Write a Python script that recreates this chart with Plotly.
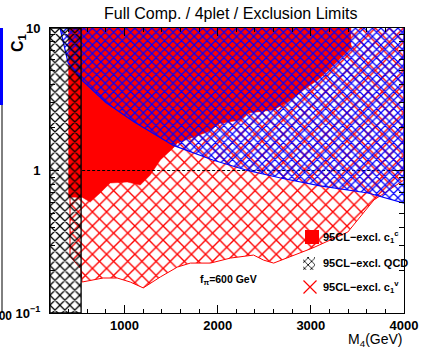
import plotly.graph_objects as go

# ---------------- data ----------------
# QCD exclusion: masses below this value are excluded
qcd_limit_mass = 534

# c1^v 95% CL exclusion: lower boundary (excluded above it)
vec_mass = [415, 415, 530, 545, 771, 921, 1061, 1201, 1384, 1567, 1707, 1922,
            2138, 2385, 2493, 2601, 3020, 3397, 3677, 4000]
vec_c1 = [10, 0.25, 0.205, 0.165, 0.176, 0.176, 0.165, 0.150, 0.179, 0.210,
          0.224, 0.224, 0.243, 0.255, 0.235, 0.224, 0.286, 0.370, 0.621, 0.858]

# c1^c 95% CL exclusion: lower/right boundary
comp_mass = [400, 400, 544, 631, 738, 846, 1029, 1169, 1277, 1384, 1524, 1567,
             1890, 2030, 2245, 2321, 2601, 2784, 2891, 3074, 3246, 3430, 3430]
comp_c1 = [10, 0.65, 0.65, 0.60, 0.695, 0.817, 0.83, 0.79, 0.93, 1.185, 1.44,
           1.56, 1.86, 2.15, 2.26, 2.53, 2.66, 3.12, 3.55, 4.32, 5.5, 7.24, 10]

# blue constraint: lower boundary (excluded above it)
blue_mass = [308, 394, 544, 800, 1100, 1524, 1955, 2321, 2676, 3100, 3613, 4000]
blue_c1 = [10, 5.7, 4.3, 3.0, 2.2, 1.5, 1.18, 1.0, 0.886, 0.78, 0.695, 0.59]

# reference line c1 = 1
ref_mass = [545, 4000]
ref_c1 = [1, 1]

x_range = [200, 4000]
y_range = [0.1, 10]
x_major = [1000, 2000, 3000, 4000]
x_major_text = ["1000", "2000", "3000", "4000"]
x_minor = [m for m in range(400, 4000, 200) if m % 1000 != 0]
y_major = [0.1, 1, 10]
y_major_text = ["10<sup>\u22121</sup>", "1", "10"]
y_minor = [0.2, 0.3, 0.4, 0.5, 0.6, 0.7, 0.8, 0.9, 2, 3, 4, 5, 6, 7, 8, 9]

title_text = "Full Comp. / 4plet / Exclusion Limits"
legend_labels = ["95CL\u2212excl. c<sub>1</sub><sup>c</sup>",
                 "95CL\u2212excl. QCD",
                 "95CL\u2212excl. c<sub>1</sub><sup>v</sup>"]
fpi_text = "f<sub>\u03c0</sub>=600 GeV"

# ---------------- layout geometry ----------------
W, H = 422, 351
L, R, T, B = 50, 18, 28, 38
PW, PH = W - L - R, H - T - B


def fx(px):
    return (px - L) / PW


def fy(py):
    return (H - B - py) / PH


FONT = "Liberation Sans"
fig = go.Figure()

# c1^v exclusion (red hatch)
fig.add_trace(go.Scatter(
    x=vec_mass + [x_range[1]], y=vec_c1 + [y_range[1]], mode="lines",
    fill="toself", fillcolor="rgba(0,0,0,0)",
    fillpattern=dict(shape="x", fgcolor="#ff0000", fgopacity=1,
                     bgcolor="rgba(0,0,0,0)", size=10, solidity=0.25),
    line=dict(color="#ff0000", width=1), hoverinfo="skip", showlegend=False))

# c1^c exclusion (solid red)
fig.add_trace(go.Scatter(
    x=comp_mass, y=comp_c1, mode="lines", fill="toself", fillcolor="#ff0000",
    line=dict(color="#ff0000", width=0.5), hoverinfo="skip", showlegend=False))

# dashed c1 = 1 line
fig.add_trace(go.Scatter(
    x=ref_mass, y=ref_c1, mode="lines",
    line=dict(color="black", width=1, dash="3px,2px"),
    hoverinfo="skip", showlegend=False))

# blue constraint (blue hatch)
fig.add_trace(go.Scatter(
    x=blue_mass + [x_range[1], x_range[1]], y=blue_c1 + [y_range[1], y_range[1]],
    mode="lines", fill="toself", fillcolor="rgba(0,0,0,0)",
    fillpattern=dict(shape="x", fgcolor="#0000ff", fgopacity=1,
                     bgcolor="rgba(0,0,0,0)", size=6, solidity=0.36),
    line=dict(color="#0000ff", width=1.2), hoverinfo="skip", showlegend=False))

# QCD exclusion (black hatch)
fig.add_trace(go.Scatter(
    x=[x_range[0], qcd_limit_mass, qcd_limit_mass, x_range[0], x_range[0]],
    y=[y_range[0], y_range[0], y_range[1], y_range[1], y_range[0]],
    mode="lines", fill="toself", fillcolor="rgba(0,0,0,0)",
    fillpattern=dict(shape="x", fgcolor="black", fgopacity=1,
                     bgcolor="rgba(0,0,0,0)", size=7, solidity=0.32),
    line=dict(color="black", width=1.3), hoverinfo="skip", showlegend=False))

# ---------------- legend (overlay axes in fractions) ----------------
def rect(px0, py0, px1, py1):
    return ([fx(px0), fx(px1), fx(px1), fx(px0), fx(px0)],
            [fy(py0), fy(py0), fy(py1), fy(py1), fy(py0)])

rx, ry = rect(305, 230, 319, 244)
fig.add_trace(go.Scatter(x=rx, y=ry, xaxis="x2", yaxis="y2", mode="lines",
                         fill="toself", fillcolor="#ff0000",
                         line=dict(width=0, color="#ff0000"),
                         hoverinfo="skip", showlegend=False))
qx, qy = rect(303, 257, 315, 270)
fig.add_trace(go.Scatter(x=qx, y=qy, xaxis="x2", yaxis="y2", mode="lines",
                         fill="toself", fillcolor="rgba(0,0,0,0)",
                         fillpattern=dict(shape="x", fgcolor="black", fgopacity=1,
                                          bgcolor="rgba(0,0,0,0)", size=5,
                                          solidity=0.3),
                         line=dict(width=0, color="rgba(0,0,0,0)"),
                         hoverinfo="skip", showlegend=False))
fig.add_trace(go.Scatter(x=[fx(310)], y=[fy(287)], xaxis="x2", yaxis="y2",
                         mode="markers",
                         marker=dict(symbol="x-thin", size=13, color="#ff0000",
                                     line=dict(color="#ff0000", width=1.2)),
                         hoverinfo="skip", showlegend=False))

annots = []
for lab, py in zip(legend_labels, [237, 263, 287]):
    annots.append(dict(text=lab, x=fx(321), y=fy(py), xref="paper", yref="paper",
                       xanchor="left", yanchor="middle", showarrow=False,
                       font=dict(family=FONT, size=11, color="black", weight="bold")))
annots.append(dict(text=fpi_text, x=fx(229), y=fy(280), xref="paper", yref="paper",
                   xanchor="center", yanchor="middle", showarrow=False,
                   font=dict(family=FONT, size=10.5, color="black", weight="bold")))
annots.append(dict(text=title_text, x=fx(230), y=fy(13), xref="paper", yref="paper",
                   xanchor="center", yanchor="middle", showarrow=False,
                   font=dict(family=FONT, size=16, color="black")))
annots.append(dict(text="M<sub>4</sub>(GeV)", x=fx(404), y=fy(340), xref="paper",
                   yref="paper", xanchor="right", yanchor="middle", showarrow=False,
                   font=dict(family=FONT, size=14, color="black")))
annots.append(dict(text="C<sub>1</sub>", x=fx(18), y=fy(43), xref="paper",
                   yref="paper", xanchor="center", yanchor="middle", showarrow=False,
                   textangle=-90,
                   font=dict(family=FONT, size=16, color="black", weight="bold")))
# edge of neighbouring panel
annots.append(dict(text="000", x=fx(14), y=fy(316), xref="paper", yref="paper",
                   xanchor="right", yanchor="middle", showarrow=False,
                   font=dict(family=FONT, size=12, color="black", weight="bold")))

shapes = [
    dict(type="rect", xref="paper", yref="paper", x0=fx(-1), x1=fx(3),
         y0=fy(105), y1=fy(28), fillcolor="#0000ff", line=dict(width=0)),
    dict(type="line", xref="paper", yref="paper", x0=fx(2), x1=fx(2),
         y0=fy(313), y1=fy(105), line=dict(color="black", width=1)),
]

tickfont = dict(family=FONT, size=13, color="black", weight="bold")
fig.update_layout(
    width=W, height=H, margin=dict(l=L, r=R, t=T, b=B, autoexpand=False),
    paper_bgcolor="white", plot_bgcolor="white",
    showlegend=False, annotations=annots, shapes=shapes,
    xaxis=dict(range=x_range, showgrid=False, zeroline=False, automargin=False,
               showline=True, linecolor="black", linewidth=1, mirror="allticks",
               ticks="inside", ticklen=8, tickcolor="black",
               tickmode="array", tickvals=x_major, ticktext=x_major_text,
               tickfont=tickfont,
               minor=dict(tickmode="array", tickvals=x_minor, ticks="inside",
                          ticklen=4, tickcolor="black", showgrid=False)),
    yaxis=dict(type="log", range=[-1, 1], showgrid=False, zeroline=False,
               automargin=False,
               showline=True, linecolor="black", linewidth=1, mirror="allticks",
               ticks="inside", ticklen=9, tickcolor="black",
               tickmode="array", tickvals=y_major, ticktext=y_major_text,
               tickfont=tickfont, ticklabelstandoff=6,
               minor=dict(tickmode="array", tickvals=y_minor, ticks="inside",
                          ticklen=5, tickcolor="black", showgrid=False)),
    xaxis2=dict(overlaying="x", range=[0, 1], visible=False, fixedrange=True),
    yaxis2=dict(overlaying="y", range=[0, 1], visible=False, fixedrange=True),
)

fig.write_html("out.html", config={"displayModeBar": False},
               post_script="document.body.style.margin='0px';")
